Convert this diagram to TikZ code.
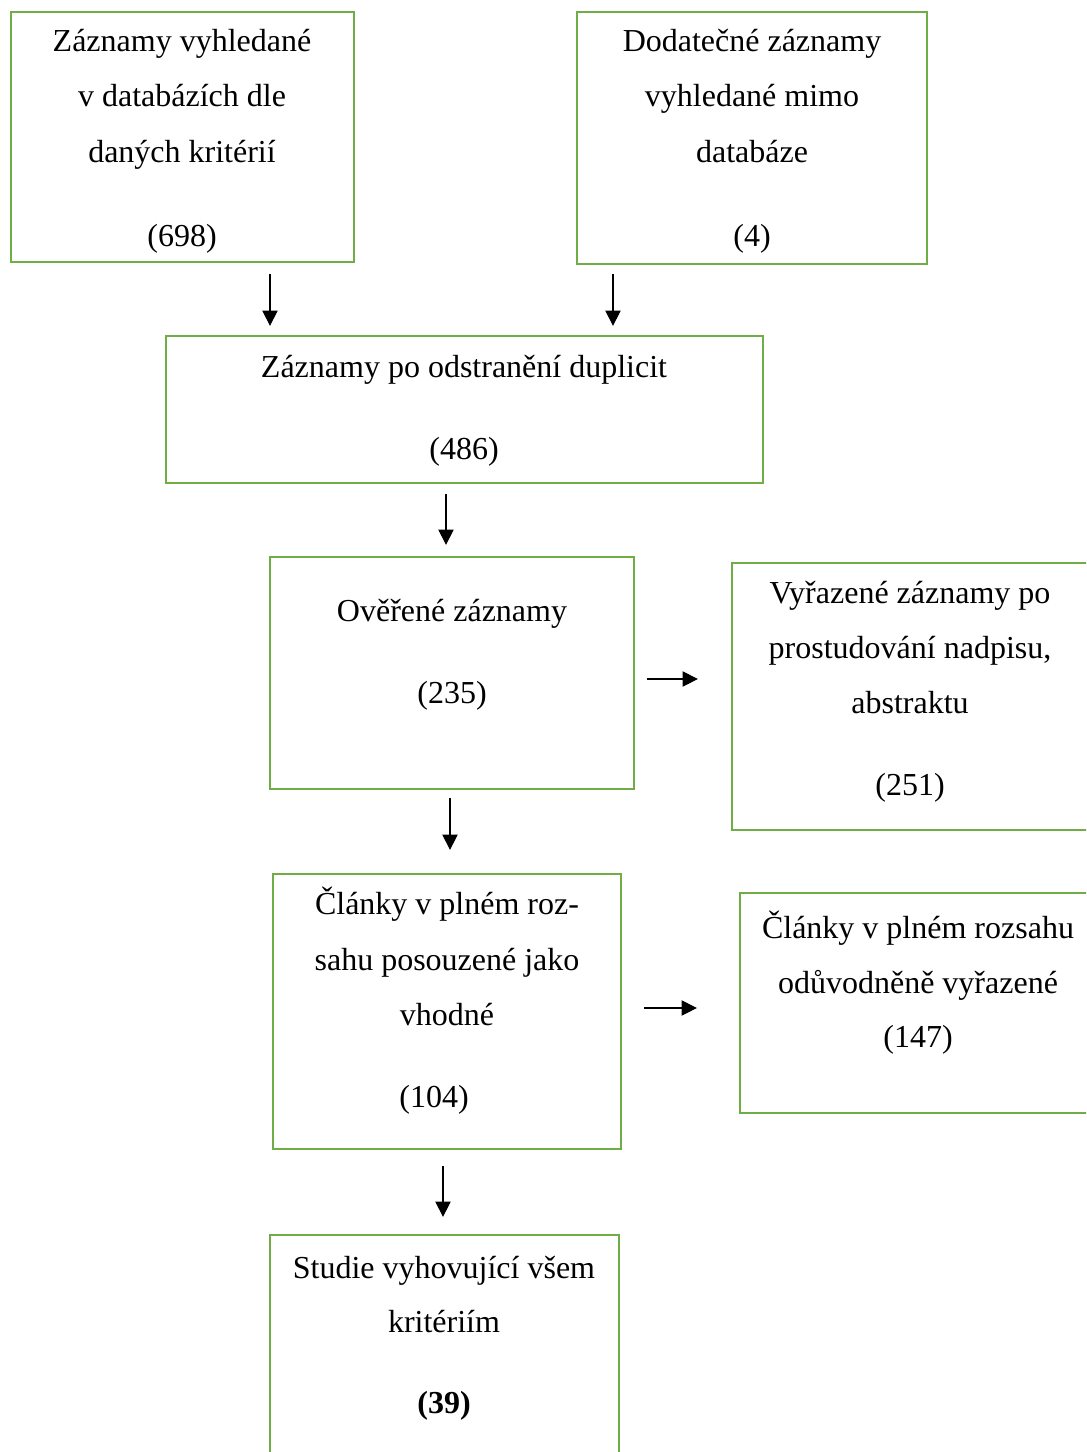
\documentclass[tikz,border=0pt]{standalone}
\usepackage{fontspec}
\setmainfont{Liberation Serif}
\usetikzlibrary{arrows.meta,fit}
\definecolor{boxgreen}{RGB}{112,173,71}
\begin{document}
\begin{tikzpicture}[x=0.75pt,y=-0.75pt,
  box/.style={draw=boxgreen,line width=1.7pt,inner sep=0pt,rectangle},
  txt/.style={inner sep=0pt,anchor=base,font=\fontsize{24pt}{28pt}\selectfont},
  arr/.style={line width=0.8pt,-{Triangle[length=11.5pt,width=11.5pt]}}]
\clip (0,0) rectangle (1086,1452);
\useasboundingbox (0,0) rectangle (1086,1452);
\fill[white] (0,0) rectangle (1086,1452);
% boxes
\node[box,fit={(11,12) (354,262)}] (A) {};
\node[box,fit={(577,12) (927,264)}] (B) {};
\node[box,fit={(166,336) (763,483)}] (C) {};
\node[box,fit={(270,557) (634,789)}] (D) {};
\node[box,fit={(732,563) (1110,830)}] (E) {};
\node[box,fit={(273,874) (621,1149)}] (F) {};
\node[box,fit={(740,893) (1110,1113)}] (G) {};
\node[box,fit={(270,1235) (619,1480)}] (H) {};
% texts
\node[txt] (a1) at (182,52) {Záznamy vyhledané};
\node[txt] (a2) at (182,107) {v databázích dle};
\node[txt] (a3) at (182,162) {daných kritérií};
\node[txt] (a4) at (182,246) {(698)};
\node[txt] (b1) at (752,52) {Dodatečné záznamy};
\node[txt] (b2) at (752,107) {vyhledané mimo};
\node[txt] (b3) at (752,162) {databáze};
\node[txt] (b4) at (752,246) {(4)};
\node[txt] (c1) at (464,377) {Záznamy po odstranění duplicit};
\node[txt] (c2) at (464,459) {(486)};
\node[txt] (d1) at (452,621) {Ověřené záznamy};
\node[txt] (d2) at (452,703) {(235)};
\node[txt] (e1) at (910,603) {Vyřazené záznamy po};
\node[txt] (e2) at (910,658) {prostudování nadpisu,};
\node[txt] (e3) at (910,713) {abstraktu};
\node[txt] (e4) at (910,795) {(251)};
\node[txt] (f1) at (447,914) {Články v plném roz-};
\node[txt] (f2) at (447,970) {sahu posouzené jako};
\node[txt] (f3) at (447,1025) {vhodné};
\node[txt] (f4) at (434,1107) {(104)};
\node[txt] (g1) at (918,938) {Články v plném rozsahu};
\node[txt] (g2) at (918,993) {odůvodněně vyřazené};
\node[txt] (g3) at (918,1047) {(147)};
\node[txt] (h1) at (444,1278) {Studie vyhovující všem};
\node[txt] (h2) at (444,1332) {kritériím};
\node[txt] (h3) at (444,1413) {\bfseries (39)};
% arrows
\draw[arr] ([yshift=-8.25pt]A.south -| 270,0) -- ([yshift=6.75pt]C.north -| 270,0);
\draw[arr] ([yshift=-6.75pt]B.south -| 613,0) -- ([yshift=6.75pt]C.north -| 613,0);
\draw[arr] ([yshift=-7.5pt]C.south -| 446,0) -- ([yshift=8.25pt]D.north -| 446,0);
\draw[arr] ([xshift=9pt]D.east |- 0,679) -- ([xshift=-24.75pt]E.west |- 0,679);
\draw[arr] ([yshift=-6pt]D.south -| 450,0) -- ([yshift=17.25pt]F.north -| 450,0);
\draw[arr] ([xshift=16.5pt]F.east |- 0,1008) -- ([xshift=-31.5pt]G.west |- 0,1008);
\draw[arr] ([yshift=-12pt]F.south -| 443,0) -- ([yshift=12.75pt]H.north -| 443,0);
\end{tikzpicture}
\end{document}
